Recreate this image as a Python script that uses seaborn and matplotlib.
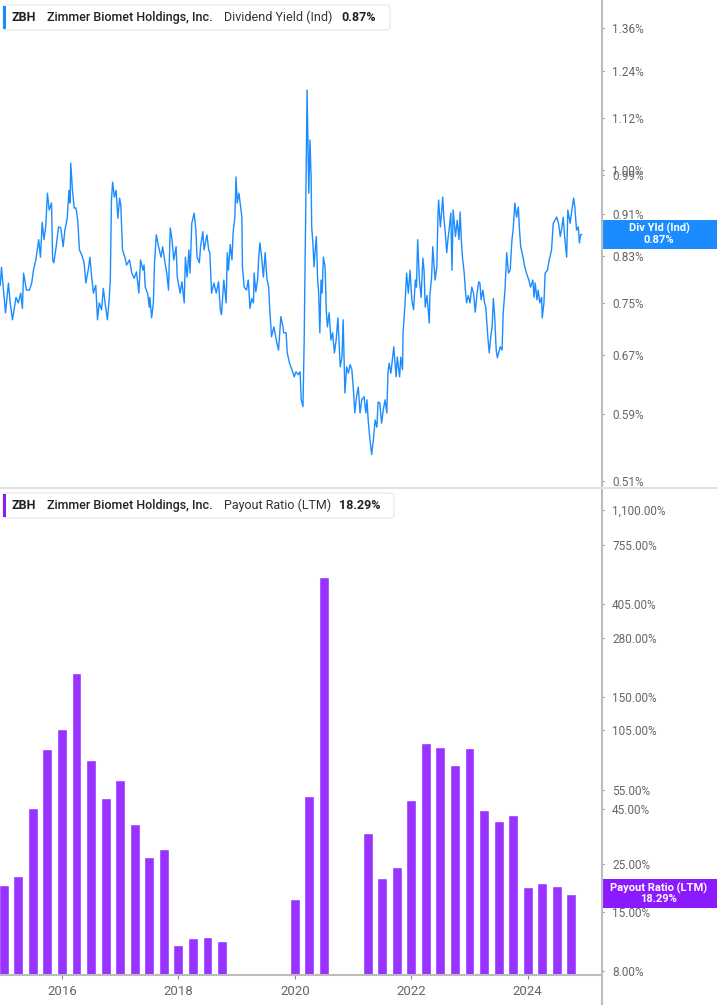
import numpy as np
import pandas as pd
import matplotlib
matplotlib.use("Agg")
import matplotlib.pyplot as plt
import seaborn as sns
from matplotlib.patches import FancyBboxPatch, Rectangle
from matplotlib.lines import Line2D
from matplotlib.transforms import IdentityTransform
from matplotlib.ticker import FixedLocator, NullLocator, FixedFormatter

# ---------------- data ----------------
yield_dates = (
    [2014.94, 2014.96, 2015.00, 2015.03, 2015.08, 2015.11, 2015.15, 2015.21, 2015.25, 2015.29,
     2015.32, 2015.34, 2015.39, 2015.44, 2015.48, 2015.51, 2015.55, 2015.60, 2015.63, 2015.66,
     2015.69, 2015.72, 2015.75, 2015.78, 2015.82, 2015.84, 2015.86, 2015.90, 2015.94, 2015.98]
    + [2016.02, 2016.05, 2016.09, 2016.12, 2016.14, 2016.15, 2016.18, 2016.21, 2016.24, 2016.27,
       2016.30, 2016.34, 2016.38, 2016.41, 2016.45, 2016.48, 2016.51, 2016.54, 2016.58, 2016.61,
       2016.64, 2016.68, 2016.71, 2016.74, 2016.78, 2016.81, 2016.83, 2016.85, 2016.87, 2016.90,
       2016.93, 2016.96, 2016.99]
    + [2017.01, 2017.04, 2017.08, 2017.11, 2017.16, 2017.20, 2017.24, 2017.28, 2017.32, 2017.35,
       2017.39, 2017.41, 2017.43, 2017.47, 2017.50, 2017.51, 2017.54, 2017.57, 2017.59, 2017.62,
       2017.66, 2017.70, 2017.73, 2017.77, 2017.80, 2017.83, 2017.86, 2017.89, 2017.92, 2017.96,
       2017.98]
    + [2018.03, 2018.06, 2018.10, 2018.12, 2018.15, 2018.18, 2018.20, 2018.23, 2018.27, 2018.30,
       2018.32, 2018.36, 2018.38, 2018.42, 2018.44, 2018.49, 2018.52, 2018.54, 2018.57, 2018.61,
       2018.65, 2018.69, 2018.72, 2018.74, 2018.78, 2018.82, 2018.84, 2018.86, 2018.89, 2018.92,
       2018.94, 2018.97, 2018.99]
    + [2019.01, 2019.04, 2019.07, 2019.09, 2019.10, 2019.13, 2019.17, 2019.20, 2019.23, 2019.26,
       2019.29, 2019.30, 2019.33, 2019.36, 2019.38, 2019.40, 2019.43, 2019.46, 2019.49, 2019.52,
       2019.55, 2019.57, 2019.60, 2019.64, 2019.69, 2019.72, 2019.76, 2019.79, 2019.81, 2019.85,
       2019.87, 2019.91, 2019.95, 2019.99]
    + [2020.02, 2020.06, 2020.09, 2020.11, 2020.14, 2020.16, 2020.18, 2020.20, 2020.21, 2020.24,
       2020.26, 2020.28, 2020.29, 2020.31, 2020.33, 2020.35, 2020.37, 2020.39, 2020.41, 2020.43,
       2020.45, 2020.47, 2020.49, 2020.52, 2020.54, 2020.56, 2020.59, 2020.62, 2020.65, 2020.68,
       2020.71, 2020.74, 2020.78, 2020.81, 2020.83, 2020.86, 2020.89, 2020.92, 2020.95, 2020.98]
    + [2021.01, 2021.03, 2021.06, 2021.09, 2021.12, 2021.15, 2021.19, 2021.22, 2021.24, 2021.26,
       2021.29, 2021.32, 2021.35, 2021.38, 2021.41, 2021.43, 2021.46, 2021.49, 2021.52, 2021.55,
       2021.58, 2021.60, 2021.62, 2021.65, 2021.68, 2021.70, 2021.74, 2021.76, 2021.80, 2021.82,
       2021.85, 2021.86, 2021.89, 2021.92, 2021.95, 2021.98]
    + [2022.01, 2022.04, 2022.07, 2022.09, 2022.11, 2022.14, 2022.17, 2022.20, 2022.22, 2022.24,
       2022.27, 2022.29, 2022.31, 2022.32, 2022.35, 2022.37, 2022.39, 2022.41, 2022.44, 2022.46,
       2022.47, 2022.50, 2022.52, 2022.54, 2022.56, 2022.59, 2022.61, 2022.63, 2022.65, 2022.68,
       2022.70, 2022.72, 2022.76, 2022.79, 2022.82, 2022.84, 2022.86, 2022.88, 2022.91, 2022.93,
       2022.95, 2022.98]
    + [2023.01, 2023.04, 2023.07, 2023.10, 2023.13, 2023.16, 2023.18, 2023.20, 2023.23, 2023.26,
       2023.28, 2023.30, 2023.32, 2023.34, 2023.37, 2023.39, 2023.41, 2023.43, 2023.46, 2023.48,
       2023.50, 2023.53, 2023.56, 2023.58, 2023.61, 2023.64, 2023.67, 2023.70, 2023.73, 2023.75,
       2023.78, 2023.81, 2023.84, 2023.86, 2023.88, 2023.92, 2023.95, 2023.98]
    + [2024.02, 2024.05, 2024.09, 2024.11, 2024.13, 2024.16, 2024.18, 2024.21, 2024.24, 2024.25,
       2024.28, 2024.30, 2024.34, 2024.37, 2024.41, 2024.44, 2024.47, 2024.50, 2024.53, 2024.56,
       2024.59, 2024.61, 2024.64, 2024.67, 2024.69, 2024.73, 2024.76, 2024.79, 2024.81, 2024.84,
       2024.87, 2024.89, 2024.91, 2024.93]
)

yield_values = (
    [0.779, 0.810, 0.766, 0.734, 0.783, 0.750, 0.723, 0.759, 0.750, 0.766,
     0.741, 0.800, 0.771, 0.771, 0.783, 0.805, 0.823, 0.860, 0.828, 0.893,
     0.860, 0.884, 0.951, 0.917, 0.931, 0.823, 0.818, 0.847, 0.884, 0.882]
    + [0.847, 0.878, 0.901, 0.957, 0.931, 1.015, 0.957, 0.921, 0.921, 0.897,
       0.841, 0.832, 0.818, 0.783, 0.805, 0.828, 0.793, 0.766, 0.779, 0.723,
       0.750, 0.739, 0.774, 0.750, 0.723, 0.755, 0.788, 0.937, 0.974, 0.943,
       0.957, 0.901, 0.941]
    + [0.927, 0.841, 0.828, 0.814, 0.823, 0.800, 0.791, 0.802, 0.766, 0.823,
       0.805, 0.814, 0.776, 0.766, 0.743, 0.759, 0.726, 0.750, 0.818, 0.869,
       0.847, 0.828, 0.847, 0.818, 0.800, 0.771, 0.882, 0.860, 0.823, 0.847,
       0.793]
    + [0.766, 0.785, 0.750, 0.828, 0.793, 0.841, 0.800, 0.891, 0.911, 0.878,
       0.828, 0.818, 0.847, 0.875, 0.841, 0.869, 0.841, 0.836, 0.766, 0.783,
       0.766, 0.785, 0.739, 0.731, 0.788, 0.750, 0.836, 0.805, 0.851, 0.823,
       0.873, 0.903, 0.985]
    + [0.931, 0.951, 0.921, 0.903, 0.811, 0.776, 0.771, 0.788, 0.741, 0.757,
       0.750, 0.800, 0.768, 0.788, 0.828, 0.854, 0.828, 0.793, 0.836, 0.791,
       0.776, 0.739, 0.697, 0.712, 0.688, 0.677, 0.728, 0.715, 0.703, 0.703,
       0.673, 0.658, 0.649, 0.639]
    + [0.646, 0.642, 0.646, 0.608, 0.599, 0.688, 0.847, 1.051, 1.189, 0.951,
       1.067, 0.985, 0.884, 0.854, 0.811, 0.841, 0.866, 0.793, 0.766, 0.703,
       0.788, 0.766, 0.828, 0.811, 0.739, 0.712, 0.734, 0.692, 0.703, 0.673,
       0.692, 0.726, 0.653, 0.667, 0.723, 0.617, 0.653, 0.644, 0.656, 0.649]
    + [0.617, 0.591, 0.612, 0.625, 0.591, 0.608, 0.612, 0.591, 0.608, 0.582,
       0.558, 0.540, 0.558, 0.582, 0.573, 0.605, 0.604, 0.578, 0.595, 0.608,
       0.591, 0.644, 0.658, 0.644, 0.667, 0.682, 0.639, 0.667, 0.639, 0.667,
       0.649, 0.703, 0.743, 0.800, 0.766, 0.805]
    + [0.755, 0.739, 0.788, 0.776, 0.860, 0.788, 0.759, 0.826, 0.805, 0.743,
       0.762, 0.739, 0.718, 0.762, 0.793, 0.847, 0.818, 0.788, 0.811, 0.911,
       0.937, 0.884, 0.911, 0.943, 0.903, 0.866, 0.836, 0.860, 0.878, 0.911,
       0.805, 0.917, 0.866, 0.897, 0.860, 0.913, 0.860, 0.828, 0.800, 0.771,
       0.750, 0.762]
    + [0.750, 0.776, 0.766, 0.735, 0.766, 0.785, 0.783, 0.755, 0.771, 0.750,
       0.743, 0.718, 0.692, 0.673, 0.700, 0.712, 0.757, 0.734, 0.677, 0.666,
       0.673, 0.682, 0.677, 0.734, 0.771, 0.836, 0.800, 0.805, 0.860, 0.878,
       0.931, 0.903, 0.923, 0.878, 0.847, 0.828, 0.811, 0.800]
    + [0.788, 0.776, 0.788, 0.759, 0.783, 0.755, 0.771, 0.750, 0.759, 0.726,
       0.750, 0.800, 0.805, 0.823, 0.841, 0.891, 0.897, 0.903, 0.891, 0.866,
       0.884, 0.903, 0.860, 0.828, 0.917, 0.891, 0.917, 0.941, 0.923, 0.878,
       0.884, 0.854, 0.869, 0.870]
)

payout_quarters = [2015.0, 2015.25, 2015.5, 2015.75, 2016.0, 2016.25, 2016.5, 2016.75,
                   2017.0, 2017.25, 2017.5, 2017.75, 2018.0, 2018.25, 2018.5, 2018.75,
                   2020.0, 2020.25, 2020.5,
                   2021.25, 2021.5, 2021.75, 2022.0, 2022.25, 2022.5, 2022.75,
                   2023.0, 2023.25, 2023.5, 2023.75, 2024.0, 2024.25, 2024.5, 2024.75]
payout_values = [20.0, 22.1, 45.6, 85.7, 106.0, 193.0, 76.2, 50.8,
                 61.5, 38.5, 27.0, 29.4, 10.6, 11.4, 11.5, 11.0,
                 17.3, 51.9, 538.0,
                 34.9, 21.6, 24.3, 49.7, 91.3, 87.5, 72.2,
                 86.6, 44.7, 39.7, 42.3, 19.6, 20.5, 19.8, 18.29]

yield_ticks = [1.36, 1.24, 1.12, 1.00, 0.99, 0.91, 0.83, 0.75, 0.67, 0.59, 0.51]
payout_ticks = [1100, 755, 405, 280, 150, 105, 55, 45, 25, 15, 8]
year_ticks = [2016, 2018, 2020, 2022, 2024]

ticker_name = "ZBH"
company = "Zimmer Biomet Holdings, Inc."
yield_title = "Dividend Yield (Ind)"
payout_title = "Payout Ratio (LTM)"
yield_last = 0.87
payout_last = 18.29

# ---------------- style ----------------
sns.set_theme(style="white")
plt.rcParams['font.family'] = ['Roboto', 'DejaVu Sans']

BLUE = "#1a8cff"
PURPLE = "#9933ff"
PURPLE_BOX = "#8c1aff"
AXIS_GRAY = "#bdbdbd"
TICK_TXT = "#666666"

W, H = 717, 1005
fig = plt.figure(figsize=(W / 100, H / 100), dpi=100)
fig.patch.set_facecolor("white")


def fx(px):
    return px / W


def fy(py):
    return 1 - py / H


AX_RIGHT = 601
ax1 = fig.add_axes([0, fy(488), fx(AX_RIGHT), 488 / H])
ax2 = fig.add_axes([0, fy(975), fx(AX_RIGHT), (975 - 488) / H])

XLIM = (2014.935, 2025.26)

# ---------------- top: dividend yield ----------------
df_y = pd.DataFrame({"date": yield_dates, "yield": yield_values})
sns.lineplot(data=df_y, x="date", y="yield", ax=ax1, color=BLUE, linewidth=1.0)
ax1.set_yscale("log")
ax1.set_ylim(0.5023, 1.445)
ax1.set_xlim(*XLIM)

# ---------------- bottom: payout ratio ----------------
df_p = pd.DataFrame({"quarter": payout_quarters, "payout": payout_values})
sns.barplot(data=df_p, x="quarter", y="payout", ax=ax2, native_scale=True,
            width=0.68, color=PURPLE, saturation=1, errorbar=None)
ax2.set_yscale("log")
ax2.set_ylim(7.66, 1391)
ax2.set_xlim(*XLIM)

for ax, ticks, labels in [
    (ax1, yield_ticks, [f"{t:.2f}%" for t in yield_ticks]),
    (ax2, payout_ticks, [f"{t:,.2f}%" for t in payout_ticks]),
]:
    ax.set_xlabel("")
    ax.set_ylabel("")
    ax.set_facecolor("white")
    ax.yaxis.tick_right()
    ax.yaxis.set_major_locator(FixedLocator(ticks))
    ax.yaxis.set_major_formatter(FixedFormatter(labels))
    ax.yaxis.set_minor_locator(NullLocator())
    ax.tick_params(axis="y", which="major", right=True, left=False, length=2,
                   width=0.8, color="#888888", pad=6, labelsize=8.5,
                   labelcolor=TICK_TXT, direction="out")
    for s in ax.spines.values():
        s.set_visible(False)
    ax.grid(False)

ax1.xaxis.set_major_locator(NullLocator())
ax1.xaxis.set_minor_locator(NullLocator())

ax2.xaxis.set_major_locator(FixedLocator(year_ticks))
ax2.xaxis.set_minor_locator(NullLocator())
ax2.set_xticklabels([str(y) for y in year_ticks])
ax2.tick_params(axis="x", bottom=True, length=3, width=0.8, color="#888888",
                labelsize=9.5, labelcolor=TICK_TXT, pad=4, direction="out")
ax2.spines["bottom"].set_visible(True)
ax2.spines["bottom"].set_color(AXIS_GRAY)
ax2.spines["bottom"].set_linewidth(1.5)

# ---------------- frame lines ----------------
fig.add_artist(Line2D([AX_RIGHT + 0.5, AX_RIGHT + 0.5], [0, H], transform=IdentityTransform(),
                      color=AXIS_GRAY, linewidth=1.5))
fig.add_artist(Line2D([0, W], [H - 488, H - 488], transform=IdentityTransform(),
                      color="#e2e2e2", linewidth=1.5))


# ---------------- header boxes ----------------
def header(y_top, y_bot, x_right, accent, metric, value, value_x):
    box = FancyBboxPatch((3, H - y_bot), x_right - 3, y_bot - y_top,
                         boxstyle="round,pad=0,rounding_size=3",
                         transform=IdentityTransform(), facecolor="white",
                         edgecolor="#e6e6e6", linewidth=0.8)
    fig.add_artist(box)
    bar = Rectangle((3, H - y_bot + 1), 3.4, y_bot - y_top - 2, transform=IdentityTransform(),
                    facecolor=accent, edgecolor="none")
    fig.add_artist(bar)
    yc = fy((y_top + y_bot) / 2)
    fig.text(fx(12), yc, ticker_name, fontsize=9, fontweight="bold", color="#222222",
             va="center", ha="left")
    fig.text(fx(47), yc, company, fontsize=9, fontweight="medium", color="#222222",
             va="center", ha="left")
    fig.text(fx(224), yc, metric, fontsize=9, fontweight="normal", color="#333333",
             va="center", ha="left")
    fig.text(fx(value_x), yc, value, fontsize=9, fontweight="bold", color="#222222",
             va="center", ha="left")


header(5, 30, 390, BLUE, yield_title, f"{yield_last:.2f}%", 341)
header(493, 518, 394, PURPLE_BOX, payout_title, f"{payout_last:.2f}%", 339)


# ---------------- last value boxes ----------------
def value_box(ax, val, color, line1, line2):
    ypix = ax.transData.transform((XLIM[0], val))[1]
    rect = Rectangle((AX_RIGHT + 1, ypix - 14.5), W - AX_RIGHT, 29,
                     transform=IdentityTransform(), facecolor=color, edgecolor="none")
    fig.add_artist(rect)
    xc = fx(659)
    fig.text(xc, (ypix + 5.5) / H, line1, fontsize=8, fontweight="bold", color="white",
             ha="center", va="center")
    fig.text(xc, (ypix - 5.5) / H, line2, fontsize=8, fontweight="bold", color="white",
             ha="center", va="center")


value_box(ax1, yield_last, BLUE, "Div Yld (Ind)", f"{yield_last:.2f}%")
value_box(ax2, payout_last, PURPLE_BOX, payout_title, f"{payout_last:.2f}%")

fig.savefig("out.png", dpi=100, facecolor="white")
